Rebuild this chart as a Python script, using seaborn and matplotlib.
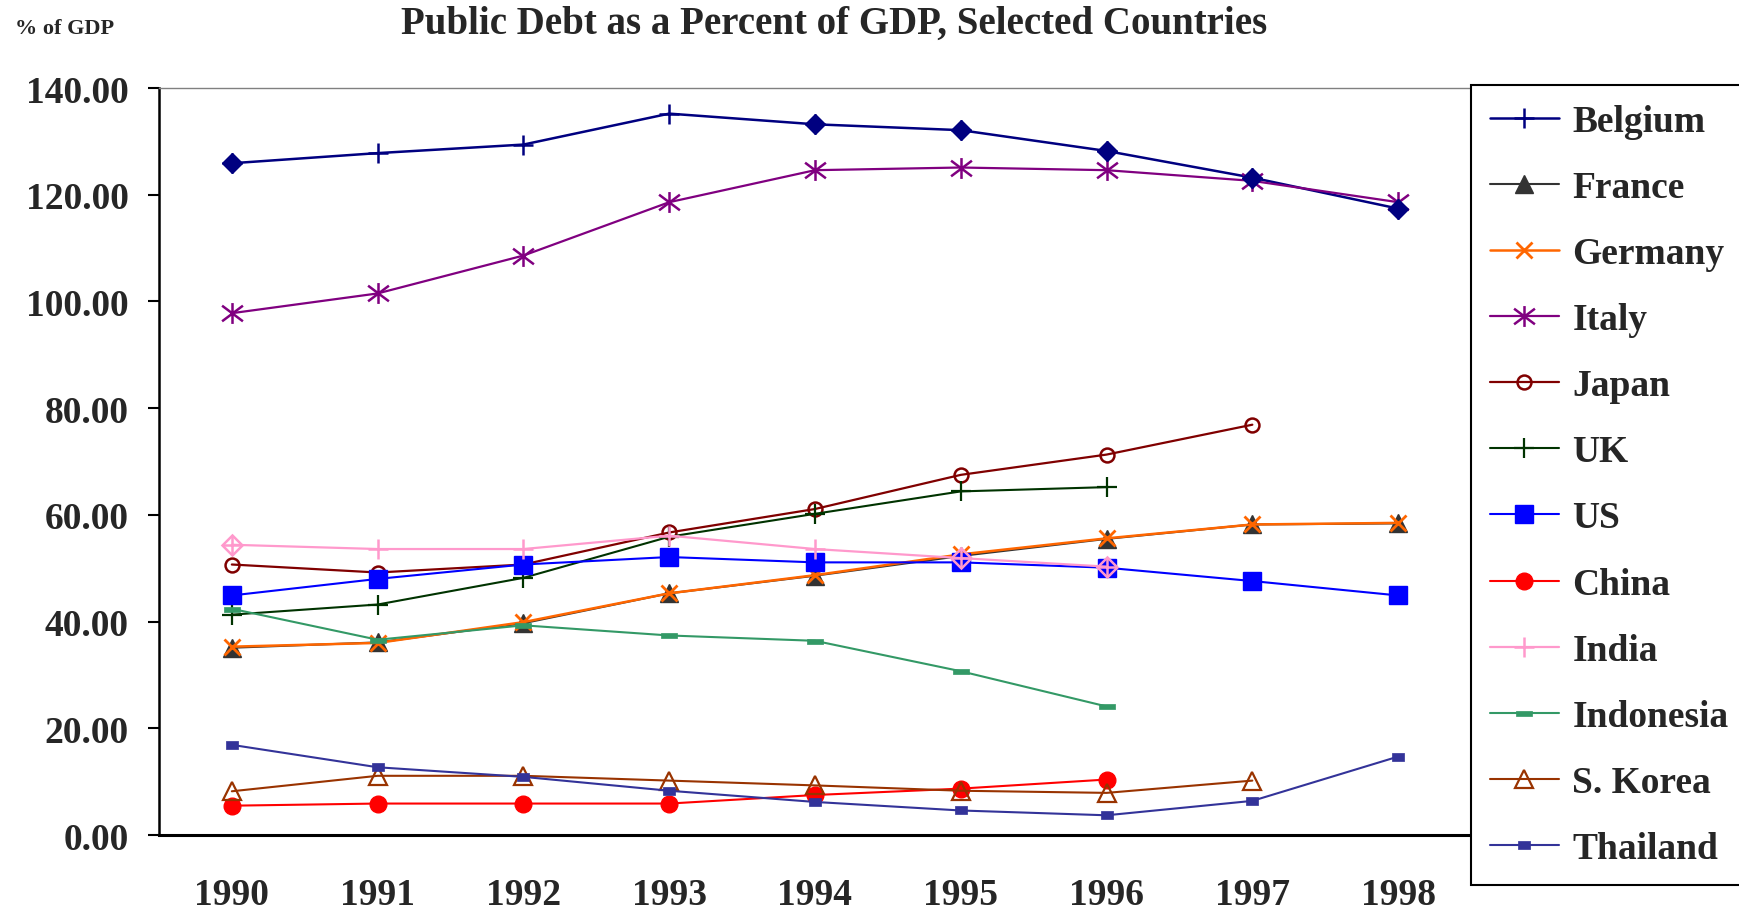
import numpy as np
import pandas as pd
import matplotlib
matplotlib.use("Agg")
import matplotlib.pyplot as plt
from matplotlib.path import Path
import seaborn as sns

# ---------------- data ----------------
years = ["1990", "1991", "1992", "1993", "1994", "1995", "1996", "1997", "1998"]
nan = np.nan
belgium = [125.9, 127.8, 129.4, 135.2, 133.2, 132.1, 128.2, 123.2, 117.4]
france = [35.1, 36.1, 39.7, 45.3, 48.6, 52.3, 55.5, 58.2, 58.4]
germany = [35.3, 36.0, 39.9, 45.3, 48.7, 52.6, 55.6, 58.2, 58.5]
italy = [97.8, 101.5, 108.6, 118.6, 124.6, 125.1, 124.6, 122.6, 118.6]
japan = [50.7, 49.2, 50.7, 56.7, 61.1, 67.5, 71.3, 76.9, nan]
uk = [41.3, 43.2, 48.2, 55.9, 60.2, 64.4, 65.2, nan, nan]
us = [44.9, 48.0, 50.7, 52.1, 51.1, 51.1, 50.1, 47.6, 44.9]
china = [5.5, 5.9, 5.9, 5.9, 7.5, 8.7, 10.4, nan, nan]
india = [54.4, 53.6, 53.6, 56.1, 53.6, 51.9, 50.3, nan, nan]
indonesia = [42.4, 36.6, 39.3, 37.4, 36.4, 30.7, 24.1, nan, nan]
s_korea = [8.2, 11.1, 11.1, 10.2, 9.3, 8.3, 7.9, 10.2, nan]
thailand = [16.9, 12.7, 10.9, 8.3, 6.2, 4.6, 3.7, 6.4, 14.7]

countries = ["Belgium", "France", "Germany", "Italy", "Japan", "UK", "US",
             "China", "India", "Indonesia", "S. Korea", "Thailand"]
series = [belgium, france, germany, italy, japan, uk, us,
          china, india, indonesia, s_korea, thailand]
yticks = [0, 20, 40, 60, 80, 100, 120, 140]

title = "Public Debt as a Percent of GDP, Selected Countries"
ylabel = "% of GDP"

# ---------------- styles ----------------
asterisk = Path([(0, -1), (0, 1), (-1, -0.75), (1, 0.75), (-1, 0.75), (1, -0.75)],
                [Path.MOVETO, Path.LINETO, Path.MOVETO, Path.LINETO, Path.MOVETO, Path.LINETO])
flatbar = Path([(-1, -0.3), (1, -0.3), (1, 0.3), (-1, 0.3), (-1, -0.3)],
               [Path.MOVETO, Path.LINETO, Path.LINETO, Path.LINETO, Path.CLOSEPOLY])
smallrect = Path([(-1, -0.6), (1, -0.6), (1, 0.6), (-1, 0.6), (-1, -0.6)],
                 [Path.MOVETO, Path.LINETO, Path.LINETO, Path.LINETO, Path.CLOSEPOLY])

styles = {
    "Belgium":   dict(color="#000080", marker="+", ms=15, mew=1.8, mfc="#000080", lw=1.8),
    "France":    dict(color="#333333", marker="^", ms=13, mew=1.0, mfc="#333333", lw=1.5),
    "Germany":   dict(color="#FF6600", marker="x", ms=12, mew=2.0, mfc="#FF6600", lw=1.8),
    "Italy":     dict(color="#800080", marker=asterisk, ms=15, mew=1.8, mfc="none", lw=1.6),
    "Japan":     dict(color="#800000", marker="o", ms=10, mew=1.8, mfc="none", lw=1.6),
    "UK":        dict(color="#003300", marker="+", ms=15, mew=1.6, mfc="#003300", lw=1.5),
    "US":        dict(color="#0000FF", marker="s", ms=13, mew=1.0, mfc="#0000FF", lw=1.5),
    "China":     dict(color="#FF0000", marker="o", ms=12, mew=1.0, mfc="#FF0000", lw=1.5),
    "India":     dict(color="#FF99CC", marker="+", ms=15, mew=1.8, mfc="#FF99CC", lw=1.6),
    "Indonesia": dict(color="#339966", marker=flatbar, ms=12, mew=0.5, mfc="#339966", lw=1.5),
    "S. Korea":  dict(color="#993300", marker="^", ms=13, mew=1.6, mfc="none", lw=1.5),
    "Thailand":  dict(color="#333399", marker=smallrect, ms=9, mew=0.5, mfc="#333399", lw=1.5),
}
# points drawn with a diamond instead of the series marker
diamond_pts = {"Belgium": ([0, 4, 5, 6, 7, 8], "#000080"),
               "India": ([0, 5, 6], "none")}

# ---------------- figure ----------------
sns.set_style("white")
plt.rcParams["font.family"] = ["Liberation Serif", "DejaVu Serif"]
plt.rcParams["font.weight"] = "bold"

fig = plt.figure(figsize=(17.39, 9.12), dpi=100)
ax = fig.add_axes([0.0914, 0.0833, 0.7545, 0.8191])

x = np.arange(len(years))
for name, vals in zip(countries, series):
    st = styles[name]
    df = pd.DataFrame({"x": x, "y": vals}).dropna()
    sns.lineplot(data=df, x="x", y="y", ax=ax, color=st["color"], lw=st["lw"],
                 marker=st["marker"], markersize=st["ms"], markeredgewidth=st["mew"],
                 markerfacecolor=st["mfc"], markeredgecolor=st["color"],
                 label=name, legend=False, errorbar=None)
    if name in diamond_pts:
        idx, fc = diamond_pts[name]
        ax.plot(x[idx], np.array(vals)[idx], linestyle="none", marker="D", ms=10,
                mfc=fc, mec=st["color"], mew=1.8 if fc == "none" else 1.0, zorder=3)

ax.set_xlim(-0.5, len(years) - 0.5)
ax.set_ylim(0, 140)
ax.set_xlabel("")
ax.set_ylabel("")

ax.set_xticks(x)
ax.set_xticklabels(years)
ax.set_xticks(np.arange(-0.5, len(years), 1.0), minor=True)
ax.tick_params(axis="x", which="major", length=0, pad=30, labelsize=27)
ax.tick_params(axis="x", which="minor", length=11, width=1.5, color="black", direction="out")

ax.set_yticks(yticks)
ax.set_yticklabels([f"{v:.2f}" for v in yticks])
ax.tick_params(axis="y", which="major", length=8, width=1.5, color="black",
               direction="out", pad=14, labelsize=27)
ax.tick_params(left=True, bottom=False, which="major")

for lab in ax.get_xticklabels() + ax.get_yticklabels():
    lab.set_fontweight("bold")

ax.spines["left"].set_color("black")
ax.spines["left"].set_linewidth(1.8)
ax.spines["bottom"].set_color("black")
ax.spines["bottom"].set_linewidth(2.2)
ax.spines["top"].set_color("#808080")
ax.spines["top"].set_linewidth(1.0)
ax.spines["right"].set_visible(False)
ax.grid(False)

handles, labels = ax.get_legend_handles_labels()
leg = fig.legend(handles, labels, loc="upper left",
                 bbox_to_anchor=(1471 / 1739, 1 - 86 / 912), bbox_transform=fig.transFigure,
                 borderaxespad=0, frameon=True, fancybox=False, framealpha=1,
                 edgecolor="black", prop={"weight": "bold", "size": 27},
                 handlelength=1.85, handletextpad=0.35, labelspacing=0.83,
                 borderpad=0.5)
leg.get_frame().set_linewidth(1.5)

fig.text(834 / 1739, 1 - 24 / 912, title, ha="center", va="center",
         fontsize=28, fontweight="bold")
fig.text(15 / 1739, 1 - 29 / 912, ylabel, ha="left", va="center",
         fontsize=16, fontweight="bold")

fig.savefig("out.png", dpi=100)
